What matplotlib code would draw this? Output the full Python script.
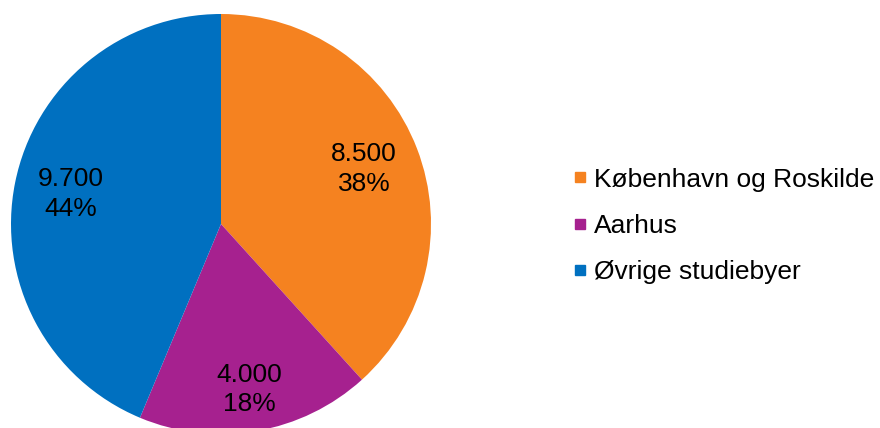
import matplotlib
matplotlib.use("Agg")
import matplotlib.pyplot as plt
from matplotlib.lines import Line2D
import numpy as np

plt.rcParams['font.family'] = ['Liberation Sans', 'DejaVu Sans']

categories = ["København og Roskilde", "Aarhus", "Øvrige studiebyer"]
values = [8500, 4000, 9700]
value_labels = ["8.500", "4.000", "9.700"]
pct_labels = ["38%", "18%", "44%"]
colors = ["#F58220", "#A6218F", "#0070C0"]

W, H = 880, 428
fig = plt.figure(figsize=(W / 100, H / 100), dpi=100)
ax = fig.add_axes([0, 0, 1, 1])

cx, cy, R = 221, H - 224, 210
wedges, _ = ax.pie(values, colors=colors, startangle=90, counterclock=False,
                   center=(cx, cy), radius=R, frame=True,
                   wedgeprops=dict(linewidth=0))
ax.set_xlim(0, W)
ax.set_ylim(0, H)
ax.set_aspect('auto')
ax.axis('off')

dists = [0.73, 0.80, 0.73]
for w, d, vl, pl in zip(wedges, dists, value_labels, pct_labels):
    ang = np.deg2rad((w.theta1 + w.theta2) / 2)
    x = cx + d * R * np.cos(ang)
    y = cy + d * R * np.sin(ang)
    ax.text(x, y, vl + "\n" + pl, ha='center', va='center', fontsize=19,
            linespacing=1.3, color='black')

handles = [Line2D([0], [0], marker='s', linestyle='none', markersize=7.5,
                  markerfacecolor=c, markeredgecolor=c) for c in colors]
leg = fig.legend(handles, categories, loc='center left',
                 bbox_to_anchor=(573 / W, 1 - 226 / H), frameon=False,
                 fontsize=19, handlelength=0.5, handletextpad=0.3,
                 labelspacing=0.85, borderpad=0, borderaxespad=0)

fig.savefig("out.png", dpi=100)
